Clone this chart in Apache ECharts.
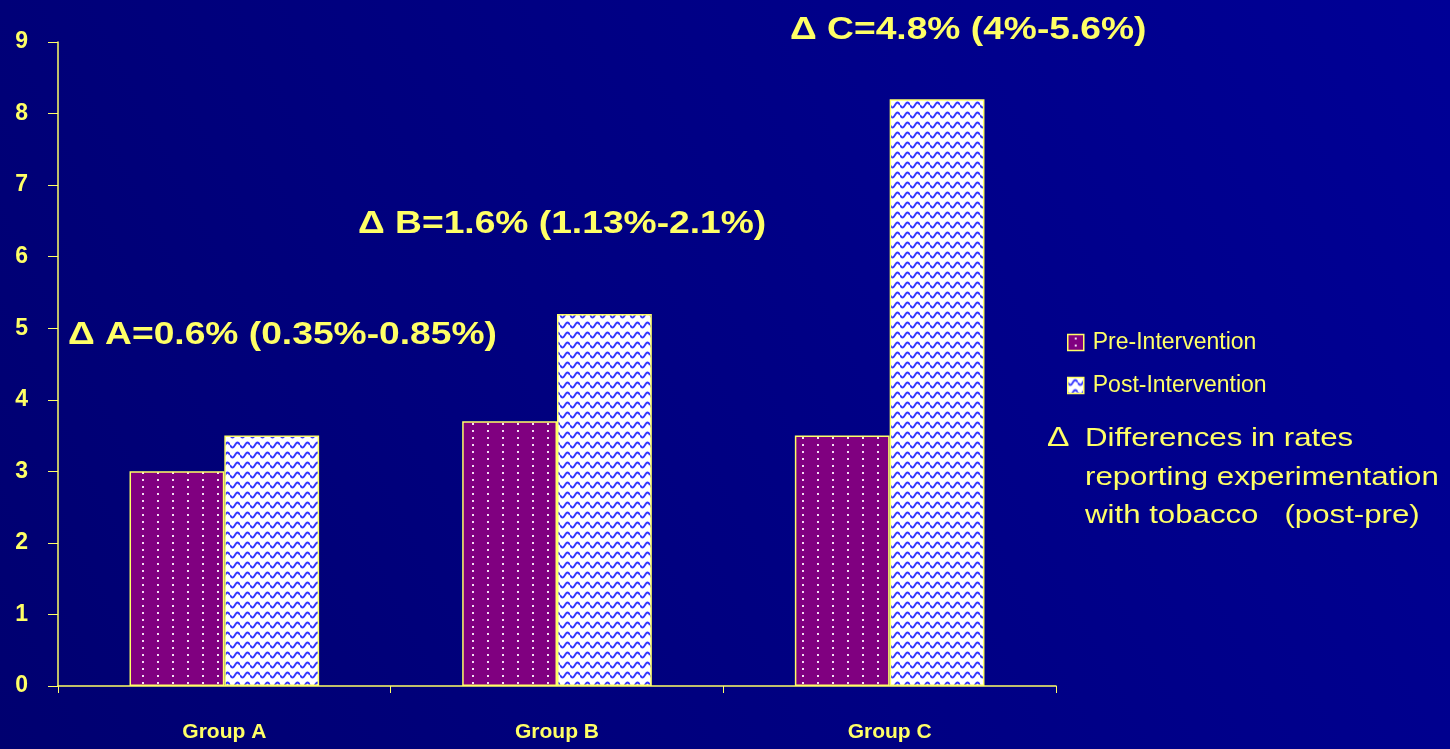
<!DOCTYPE html>
<html>
<head>
<meta charset="utf-8">
<script src="https://cdn.jsdelivr.net/npm/echarts@6/dist/echarts.min.js"></script>
<style>
  html, body { margin: 0; padding: 0; }
  #tobaccoChart { width: 1450px; height: 749px; }
</style>
</head>
<body>
<div id="tobaccoChart"></div>
<script>
// data
var categories = ["Group A", "Group B", "Group C"];
var preValues = [3.0, 3.7, 3.5];
var postValues = [3.5, 5.2, 8.2];
var seriesNames = ["Pre-Intervention", "Post-Intervention"];
var deltaNotes = [
  "\u0394 A=0.6% (0.35%-0.85%)",
  "\u0394 B=1.6% (1.13%-2.1%)",
  "\u0394 C=4.8% (4%-5.6%)"
];
var noteLines = ["Differences in rates", "reporting experimentation", "with tobacco   (post-pre)"];

var yellow = "#ffff66";
var fontName = "Liberation Sans, Arial, sans-serif";

// dotted purple fill
function dotPattern() {
  var c = document.createElement("canvas");
  c.width = 15;
  c.height = 7;
  var ctx = c.getContext("2d");
  ctx.fillStyle = "#800080";
  ctx.fillRect(0, 0, 15, 7);
  ctx.fillStyle = "#f4dcf4";
  ctx.fillRect(7, 3, 2, 2);
  return c;
}

// blue wave fill
function wavePattern() {
  var c = document.createElement("canvas");
  c.width = 10;
  c.height = 10;
  var ctx = c.getContext("2d");
  ctx.fillStyle = "#ffffff";
  ctx.fillRect(0, 0, 10, 10);
  ctx.strokeStyle = "#3838ff";
  ctx.lineWidth = 2;
  ctx.beginPath();
  for (var x = 0; x <= 10; x += 0.5) {
    var y = 5 + 2.5 * Math.sin((x / 10) * Math.PI * 2);
    if (x === 0) ctx.moveTo(x, y); else ctx.lineTo(x, y);
  }
  ctx.stroke();
  return c;
}

function bigText(x, y, txt) {
  return {
    type: "text", x: x, y: y, scaleX: 1.2,
    style: { text: txt, fill: yellow, font: "bold 31px " + fontName, verticalAlign: "middle", align: "left" }
  };
}

var myChart = echarts.init(document.getElementById("tobaccoChart"));

var option = {
  backgroundColor: {
    type: "linear", x: 0, y: 1, x2: 1, y2: 0,
    colorStops: [
      { offset: 0, color: "#000070" },
      { offset: 1, color: "#000096" }
    ]
  },
  textStyle: { fontFamily: fontName },
  animation: false,
  grid: { left: 58, right: 394, top: 42, bottom: 63 },
  legend: {
    orient: "vertical",
    left: 1062,
    top: 326,
    icon: "rect",
    itemWidth: 16,
    itemHeight: 16,
    itemGap: 20,
    data: seriesNames,
    itemStyle: { borderColor: yellow, borderWidth: 1.5 },
    textStyle: { color: yellow, fontSize: 23, padding: [0, 0, 0, 4] }
  },
  xAxis: {
    type: "category",
    data: categories,
    axisLine: { lineStyle: { color: yellow, width: 1.5 } },
    axisTick: { show: true, length: 7, lineStyle: { color: yellow } },
    axisLabel: { color: yellow, fontSize: 21, fontWeight: "bold", margin: 36 }
  },
  yAxis: {
    type: "value",
    min: 0,
    max: 9,
    interval: 1,
    splitLine: { show: false },
    axisLine: { show: true, lineStyle: { color: yellow, width: 1.5 } },
    axisTick: { show: true, length: 10, lineStyle: { color: yellow } },
    axisLabel: { color: yellow, fontSize: 23, fontWeight: "bold", margin: 30 }
  },
  series: [
    {
      name: seriesNames[0],
      type: "bar",
      data: preValues,
      barGap: "0%",
      barCategoryGap: "43%",
      itemStyle: {
        color: { image: dotPattern(), repeat: "repeat" },
        borderColor: yellow,
        borderWidth: 1.5
      }
    },
    {
      name: seriesNames[1],
      type: "bar",
      data: postValues,
      itemStyle: {
        color: { image: wavePattern(), repeat: "repeat" },
        borderColor: yellow,
        borderWidth: 1.5
      }
    }
  ],
  graphic: [
    bigText(68, 335, deltaNotes[0]),
    bigText(358, 224, deltaNotes[1]),
    bigText(790, 30, deltaNotes[2]),
    {
      type: "text", x: 1047, y: 438, scaleX: 1.2,
      style: { text: "\u0394", fill: yellow, font: "28px " + fontName, verticalAlign: "middle" }
    },
    {
      type: "text", x: 1085, y: 420, scaleX: 1.2,
      style: {
        text: noteLines.join("\n"),
        fill: yellow,
        font: "26px " + fontName,
        lineHeight: 38.5,
        verticalAlign: "top"
      }
    }
  ]
};

myChart.setOption(option);
</script>
</body>
</html>
